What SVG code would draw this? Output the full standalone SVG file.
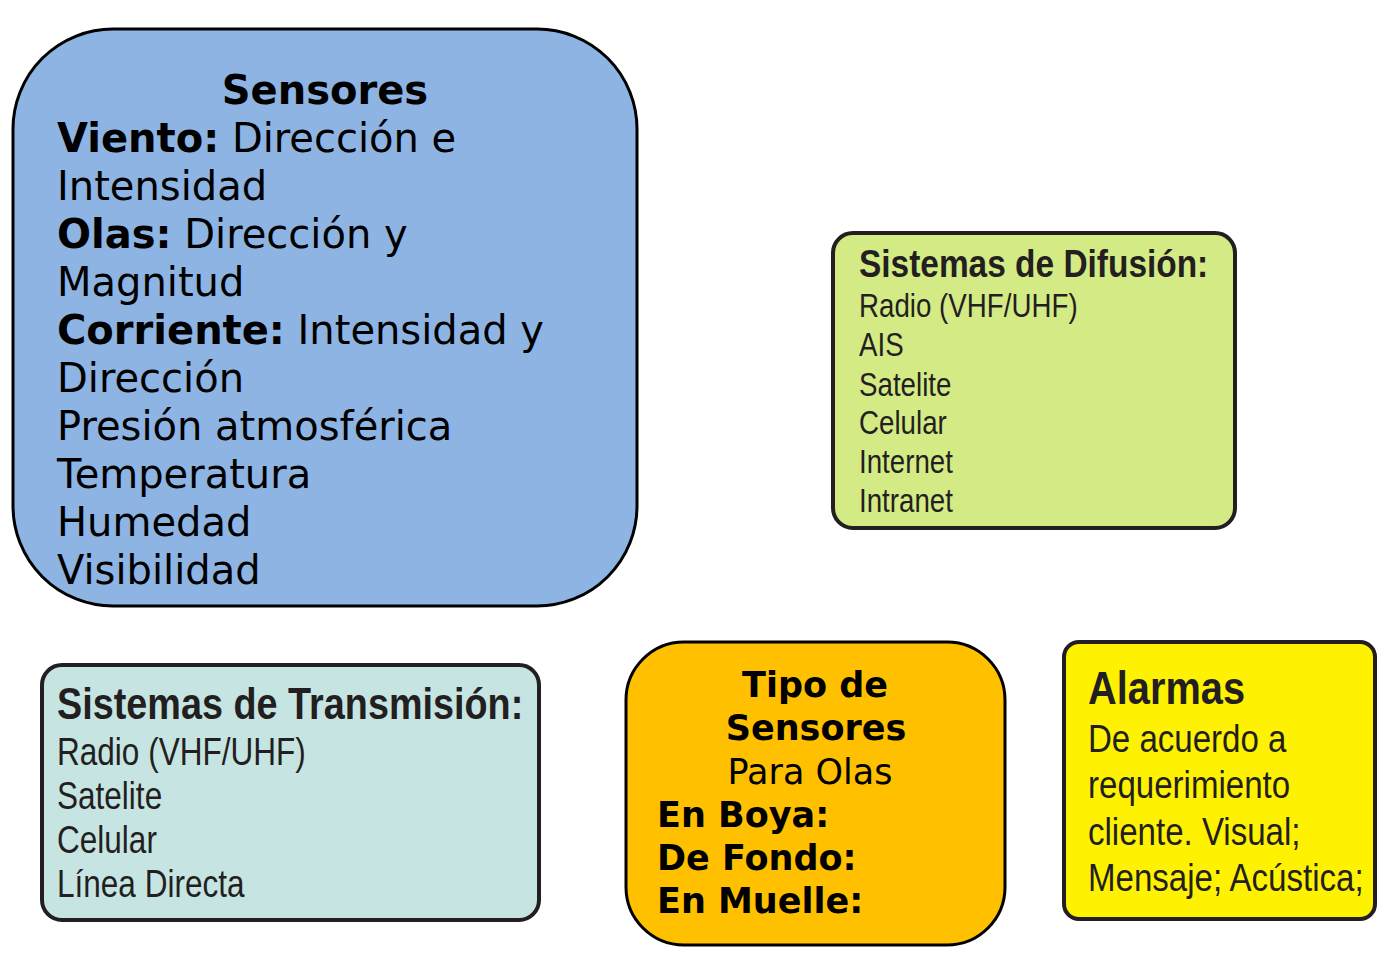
<svg xmlns="http://www.w3.org/2000/svg" width="1387" height="960" viewBox="0 0 1387 960">
<style>
.dv{font-family:"DejaVu Sans",Verdana,sans-serif;fill:#000}
.dvb{font-family:"DejaVu Sans",Verdana,sans-serif;font-weight:bold;fill:#000}
.ar{font-family:"Liberation Sans",Arial,sans-serif;fill:#231f20}
.arb{font-family:"Liberation Sans",Arial,sans-serif;font-weight:bold;fill:#231f20}
.box{stroke:#000;stroke-width:3}
.cbox{stroke:#231f20;stroke-width:4}
</style>
<rect width="1387" height="960" fill="#ffffff"/>
<g id="connectors"></g>
<g id="sensores">
<rect class="box" x="13" y="29" width="624" height="577" rx="100" ry="100" fill="#8eb4e3"/>
<text class="dvb" x="325" y="104" font-size="40" text-anchor="middle">Sensores</text>
<g font-size="40">
<text class="dv" x="57" y="152"><tspan class="dvb">Viento:</tspan> Dirección e</text>
<text class="dv" x="57" y="200">Intensidad</text>
<text class="dv" x="57" y="248"><tspan class="dvb">Olas:</tspan> Dirección y</text>
<text class="dv" x="57" y="296">Magnitud</text>
<text class="dv" x="57" y="344"><tspan class="dvb">Corriente:</tspan> Intensidad y</text>
<text class="dv" x="57" y="392">Dirección</text>
<text class="dv" x="57" y="440">Presión atmosférica</text>
<text class="dv" x="57" y="488">Temperatura</text>
<text class="dv" x="57" y="536">Humedad</text>
<text class="dv" x="57" y="584">Visibilidad</text>
</g>
</g>
<g id="difusion">
<rect class="cbox" x="833" y="233" width="402" height="295" rx="20" ry="20" fill="#d4ea84"/>
<text class="arb" font-size="38" transform="translate(859 277) scale(0.88 1)">Sistemas de Difusión:</text>
<g font-size="33">
<text class="ar" transform="translate(859 317) scale(0.84 1)">Radio (VHF/UHF)</text>
<text class="ar" transform="translate(859 356) scale(0.84 1)">AIS</text>
<text class="ar" transform="translate(859 396) scale(0.84 1)">Satelite</text>
<text class="ar" transform="translate(859 434) scale(0.84 1)">Celular</text>
<text class="ar" transform="translate(859 473) scale(0.84 1)">Internet</text>
<text class="ar" transform="translate(859 512) scale(0.84 1)">Intranet</text>
</g>
</g>
<g id="transmision">
<rect class="cbox" x="42" y="665" width="497" height="255" rx="20" ry="20" fill="#c6e5e2"/>
<text class="arb" font-size="45" transform="translate(57 719) scale(0.84 1)">Sistemas de Transmisión:</text>
<g font-size="38">
<text class="ar" transform="translate(57 765) scale(0.83 1)">Radio (VHF/UHF)</text>
<text class="ar" transform="translate(57 809) scale(0.83 1)">Satelite</text>
<text class="ar" transform="translate(57 853) scale(0.83 1)">Celular</text>
<text class="ar" transform="translate(57 897) scale(0.83 1)">Línea Directa</text>
</g>
</g>
<g id="tipo-sensores">
<rect class="box" x="626" y="642" width="379" height="303" rx="58" ry="58" fill="#ffc000"/>
<g font-size="35">
<text class="dvb" x="815" y="697" text-anchor="middle">Tipo de</text>
<text class="dvb" x="816" y="740" text-anchor="middle">Sensores</text>
<text class="dv" x="810" y="784" text-anchor="middle">Para Olas</text>
<text class="dvb" x="657" y="827">En Boya:</text>
<text class="dvb" x="657" y="870">De Fondo:</text>
<text class="dvb" x="657" y="913">En Muelle:</text>
</g>
</g>
<g id="alarmas">
<rect class="cbox" x="1064" y="642" width="311" height="277" rx="15" ry="15" fill="#fff200"/>
<text class="arb" font-size="46" transform="translate(1088 704) scale(0.865 1)">Alarmas</text>
<g font-size="38">
<text class="ar" transform="translate(1088 752) scale(0.87 1)">De acuerdo a</text>
<text class="ar" transform="translate(1088 798) scale(0.87 1)">requerimiento</text>
<text class="ar" transform="translate(1088 845) scale(0.87 1)">cliente. Visual;</text>
<text class="ar" transform="translate(1088 891) scale(0.87 1)">Mensaje; Acústica;</text>
</g>
</g>
</svg>
